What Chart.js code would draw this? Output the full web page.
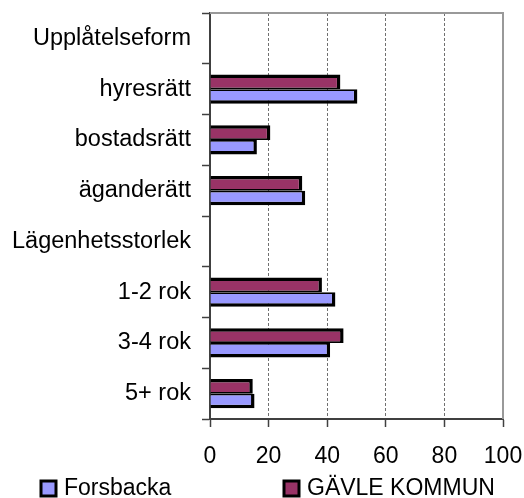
<!DOCTYPE html>
<html>
<head>
<meta charset="utf-8">
<script src="https://cdn.jsdelivr.net/npm/chart.js@4/dist/chart.umd.min.js"></script>
<style>
  html, body { margin: 0; padding: 0; background: #fff; }
  #wrap { width: 524px; height: 498px; }
</style>
</head>
<body>
<div id="wrap"><canvas id="myChart" width="524" height="498"></canvas></div>
<script>
const categories = ['Upplåtelseform', 'hyresrätt', 'bostadsrätt', 'äganderätt',
  'Lägenhetsstorlek', '1-2 rok', '3-4 rok', '5+ rok'];
const forsbacka = [null, 50.3, 16.0, 32.5, null, 42.8, 41.0, 15.2];
const gavle = [null, 44.5, 20.6, 31.5, null, 38.2, 45.6, 14.6];
const xTicks = [0, 20, 40, 60, 80, 100];

const FONT = 'Liberation Sans, Arial, sans-serif';

// grey frame round the plot area (top + right), like the original
const frame = {
  id: 'frame',
  beforeDatasetsDraw(chart) {
    const a = chart.chartArea, ctx = chart.ctx;
    ctx.save();
    ctx.strokeStyle = '#999';
    ctx.lineWidth = 2;
    ctx.beginPath();
    ctx.moveTo(a.left, a.top);
    ctx.lineTo(a.right, a.top);
    ctx.lineTo(a.right, a.bottom);
    ctx.stroke();
    ctx.restore();
  }
};

// legend drawn spread out at the bottom
const bottomLegend = {
  id: 'bottomLegend',
  afterDraw(chart) {
    const ctx = chart.ctx;
    const items = [
      { x: 41, label: 'Forsbacka', color: '#9999FF' },
      { x: 284, label: 'GÄVLE KOMMUN', color: '#993366' }
    ];
    ctx.save();
    ctx.font = '23px ' + FONT;
    ctx.textBaseline = 'middle';
    items.forEach(it => {
      ctx.fillStyle = it.color;
      ctx.fillRect(it.x, 481, 15, 15);
      ctx.strokeStyle = '#000';
      ctx.lineWidth = 3;
      ctx.strokeRect(it.x, 481, 15, 15);
      ctx.fillStyle = '#000';
      ctx.fillText(it.label, it.x + 23, 489);
    });
    ctx.restore();
  }
};

const ctx = document.getElementById('myChart');

new Chart(ctx, {
  type: 'bar',
  data: {
    labels: categories,
    datasets: [{
      label: 'GÄVLE KOMMUN',
      data: gavle,
      backgroundColor: '#993366',
      borderColor: '#000',
      borderWidth: { top: 3.5, right: 3.5, bottom: 1.75, left: 0 },
      borderSkipped: false
    }, {
      label: 'Forsbacka',
      data: forsbacka,
      backgroundColor: '#9999FF',
      borderColor: '#000',
      borderWidth: { top: 1.75, right: 3.5, bottom: 3.5, left: 0 },
      borderSkipped: false
    }]
  },
  options: {
    indexAxis: 'y',
    responsive: false,
    animation: false,
    categoryPercentage: 0.58,
    barPercentage: 1,
    layout: { padding: { top: 13, right: 21, bottom: 33, left: 0 } },
    plugins: {
      legend: { display: false },
      tooltip: { enabled: false }
    },
    scales: {
      x: {
        min: 0,
        max: 100,
        afterBuildTicks: s => { s.ticks = xTicks.map(v => ({ value: v })); },
        afterFit: s => { s.height = 46; s.paddingLeft = 0; s.paddingRight = 0; },
        grid: {
          color: c => (c.tick && (c.tick.value === 0 || c.tick.value === 100)) ? 'rgba(0,0,0,0)' : '#707070',
          lineWidth: 1,
          tickLength: 8,
          tickColor: '#404040',
          tickWidth: 1.5
        },
        border: { color: '#404040', width: 2, dash: [3, 2] },
        ticks: {
          color: '#000',
          padding: 16,
          font: { family: FONT, size: 23 }
        }
      },
      y: {
        afterFit: s => { s.width = 210; s.paddingTop = 0; s.paddingBottom = 0; },
        grid: {
          offset: true,
          drawOnChartArea: false,
          tickLength: 8,
          tickColor: '#404040',
          tickWidth: 1.5
        },
        border: { color: '#404040', width: 2 },
        ticks: {
          color: '#000',
          padding: 11,
          font: { family: FONT, size: 23.5 }
        }
      }
    }
  },
  plugins: [frame, bottomLegend]
});
</script>
</body>
</html>
